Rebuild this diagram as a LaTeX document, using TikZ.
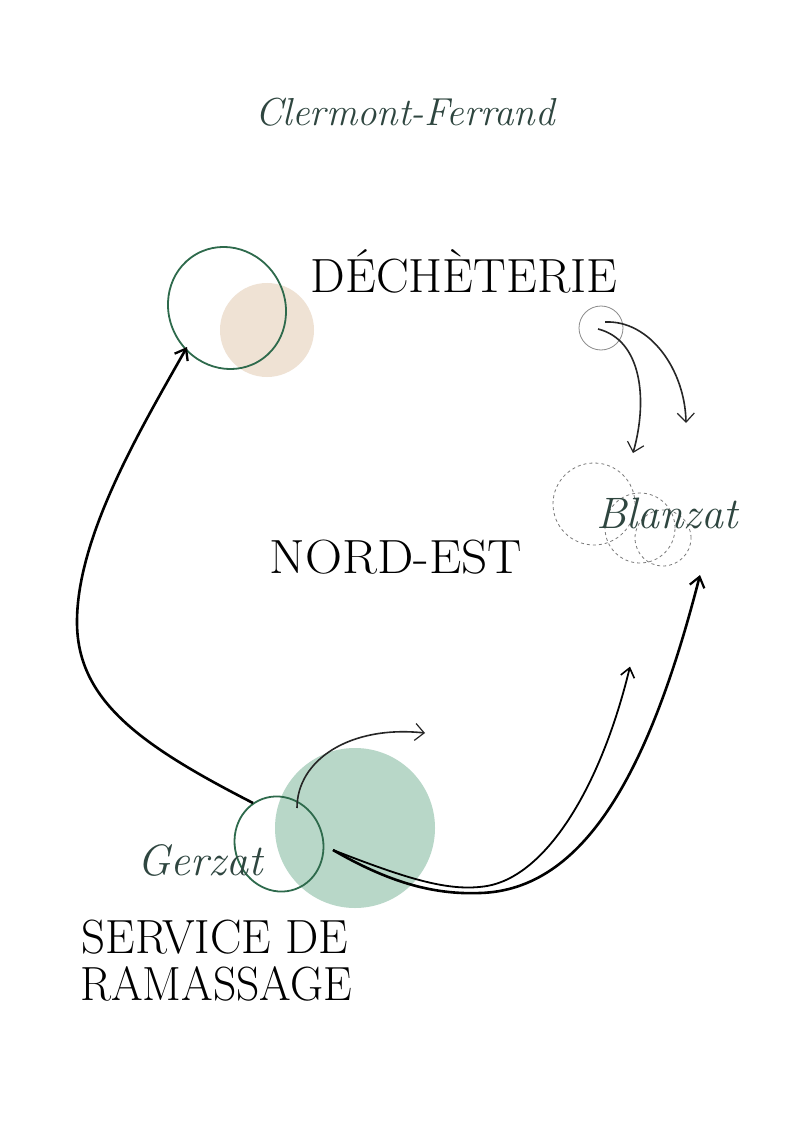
\documentclass[tikz,border=0pt]{standalone}
\usepackage{fontspec}
\usepackage{graphicx}
\usetikzlibrary{arrows.meta,shapes.geometric,calc}
\definecolor{scriptcol}{HTML}{2F4640}
\definecolor{ringcol}{HTML}{2E6A4C}
\definecolor{beige}{HTML}{EFE2D4}
\definecolor{mint}{HTML}{B8D7C8}
\definecolor{graycirc}{HTML}{8A8A8A}
\definecolor{dashcol}{HTML}{7A7A7A}
\begin{document}
\begin{tikzpicture}[x=1pt,y=-1pt,
  script/.style={text=scriptcol, font=\fontsize{44}{44}\selectfont\itshape, inner sep=0},
  caps/.style={text=black, inner sep=0, font=\fontsize{48}{48}\selectfont},
  ring/.style={draw=ringcol, line width=1.8pt, ellipse, inner sep=0},
  blob/.style={circle, inner sep=0, draw=none},
  bigarrow/.style={line width=2.6pt, -{Straight Barb[length=10pt,width=15pt,line width=2.3pt]}},
  thinarrow/.style={line width=1.6pt, draw=black!85, -{Straight Barb[length=9pt,width=17pt,line width=1.2pt]}},
  dashring/.style={circle, draw=dashcol, dashed, line width=0.8pt, inner sep=0},
]
\useasboundingbox[fill=white] (0,0) rectangle (800,1131);

% title
\node[script, font=\fontsize{39}{39}\selectfont\itshape] (title) at (405,112) {Clermont-Ferrand};

% Decheterie
\node[blob, fill=beige, minimum size=94] (beigedot) at (267,330) {};
\node[ring, minimum width=124, minimum height=116, rotate=-60] (dechring) at (227,308) {};
\node[caps, anchor=base] (dech) at (464,292) {\scalebox{1.02}[1]{DÉCHÈTERIE}};

% hub circle and Blanzat
\node[circle, draw=graycirc, line width=0.8pt, minimum size=44, inner sep=0] (hub) at (601,328) {};
\node[dashring, minimum size=82] (dashA) at (594,504) {};
\node[dashring, minimum size=70] (dashB) at (640,528) {};
\node[dashring, minimum size=56] (dashC) at (663,538) {};
\node[script] (blanzat) at (667,513) {Blanzat};

% centre
\node[caps, anchor=base] (nordest) at (396,573) {\scalebox{1.07}[1]{NORD-EST}};

% Gerzat
\node[blob, fill=mint, minimum size=160] (mintdot) at (355,828) {};
\node[ring, minimum width=96, minimum height=88, rotate=-70] (gerzring) at (279,844) {};
\node[script] (gerzat) at (200,860) {Gerzat};
\node[caps, anchor=base] (service) at (215,953) {\scalebox{0.98}[1]{SERVICE DE}};
\node[caps, anchor=base] (ramassage) at (216,1000) {\scalebox{0.95}[1]{RAMASSAGE}};

% connector end points
\coordinate (gzout) at ($(gerzring.center)+(-26,-41)$);
\coordinate (dechin) at ($(dechring.center)+(-40,39)$);
\coordinate (hubA) at ($(hub.center)+(-3,1)$);
\coordinate (hubB) at ($(hub.center)+(4,-6)$);
\coordinate (blA) at ($(dashA.center)+(39,-51)$);
\coordinate (blB) at ($(dashB.center)+(46,-105)$);
\coordinate (gzmid) at ($(gerzring.center)+(18,-36)$);
\coordinate (gztip) at ($(mintdot.center)+(70,-95)$);
\coordinate (mintout) at ($(mintdot.center)+(-22,22)$);
\coordinate (tipA) at ($(nordest.center)+(234,110)$);
\coordinate (tipB) at ($(dashC.center)+(37,37)$);

% connectors
\draw[bigarrow] (gzout) .. controls (140,745) and (76,700) .. (77,620)
  .. controls (78,535) and (140,430) .. (dechin);
\draw[thinarrow] (hubA) .. controls (642,340) and (648,400) .. (blA);
\draw[thinarrow] (hubB) .. controls (650,320) and (685,370) .. (blB);
\draw[thinarrow] (gzmid) .. controls (297,760) and (350,725) .. (gztip);
\draw[line width=1.8pt, -{Straight Barb[length=9pt,width=14pt,line width=1.6pt]}]
  (mintout) .. controls (410,880) and (450,892) .. (487,886)
  .. controls (545,876) and (600,790) .. (tipA);
\draw[line width=2.6pt, -{Straight Barb[length=10pt,width=15pt,line width=2.2pt]}]
  (mintout) .. controls (385,880) and (430,895) .. (480,893)
  .. controls (585,890) and (650,770) .. (tipB);
\end{tikzpicture}
\end{document}
